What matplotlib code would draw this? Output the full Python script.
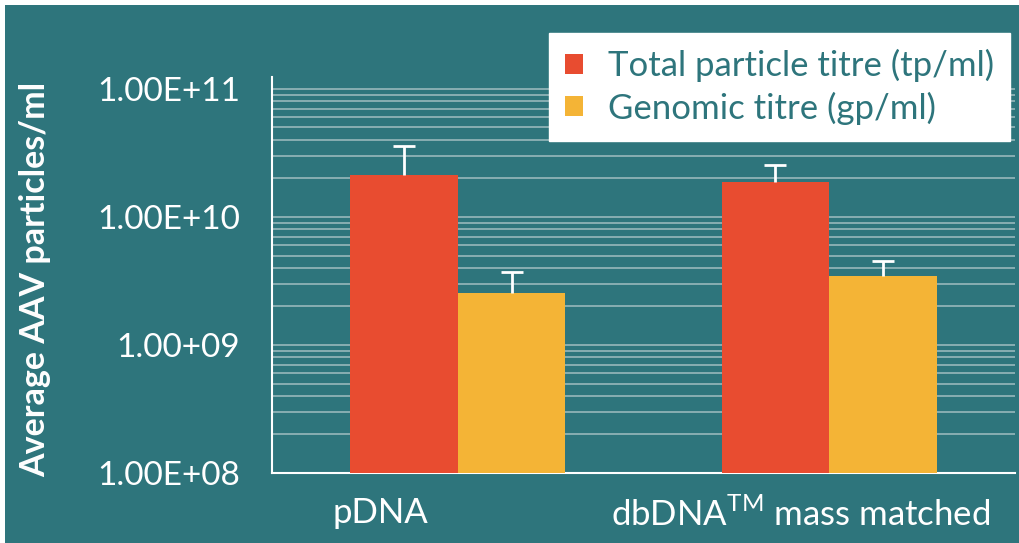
import matplotlib
matplotlib.use("Agg")
import matplotlib.pyplot as plt
from matplotlib.patches import Rectangle
from matplotlib.ticker import FixedLocator, LogLocator, NullFormatter
import numpy as np

# Data
categories = ["pDNA", "dbDNA$^{\\mathregular{TM}}$ mass matched"]
series_names = ["Total particle titre (tp/ml)", "Genomic titre (gp/ml)"]
total_titre = [2.13e10, 1.87e10]
total_err = [1.44e10, 0.69e10]
genomic_titre = [2.55e9, 3.46e9]
genomic_err = [1.19e9, 1.07e9]
ytick_values = [1e8, 1e9, 1e10, 1e11]
ytick_labels = ["1.00E+08", "1.00+09", "1.00E+10", "1.00E+11"]

TEAL = "#2E757C"
RED = "#E84C30"
YELLOW = "#F4B436"
GRID = "#8FB3B6"

plt.rcParams["font.family"] = ["Lato", "DejaVu Sans"]

W, H = 1019, 543
fig = plt.figure(figsize=(W / 100, H / 100), dpi=100, facecolor="white")
fig.patches.append(Rectangle((5 / W, 0), 1, 1 - 5 / H, transform=fig.transFigure,
                             facecolor=TEAL, edgecolor="none", zorder=-10))

ax = fig.add_axes([272 / W, 1 - 473 / H, (1015 - 272) / W, (473 - 77) / H])
ax.set_facecolor(TEAL)
ax.set_yscale("log")
ax.set_ylim(1e8, 1.24e11)
ax.set_xlim(-0.5, 1.5)

x = np.arange(len(categories))
bw = 0.29
err_kw = dict(ecolor="white", elinewidth=2, capsize=8, capthick=2)
bars_total = ax.bar(x - bw / 2, total_titre, bw, color=RED, zorder=3,
                    yerr=[np.zeros(2), total_err], error_kw=err_kw, label=series_names[0])
bars_gen = ax.bar(x + bw / 2, genomic_titre, bw, color=YELLOW, zorder=3,
                  yerr=[np.zeros(2), genomic_err], error_kw=err_kw, label=series_names[1])
# only the upper whisker carries a cap
for bc in (bars_total, bars_gen):
    caplines = bc.errorbar.lines[1]
    caplines[0].set_visible(False)

# Axis styling
for s in ["top", "right"]:
    ax.spines[s].set_visible(False)
for s in ["left", "bottom"]:
    ax.spines[s].set_color("white")
    ax.spines[s].set_linewidth(1.5)

ax.yaxis.set_major_locator(FixedLocator(ytick_values))
ax.set_yticklabels(ytick_labels)
ax.yaxis.set_minor_locator(LogLocator(base=10, subs=np.arange(2, 10)))
ax.yaxis.set_minor_formatter(NullFormatter())
ax.tick_params(axis="y", which="both", length=0, colors="white", labelsize=24, pad=23)
ax.grid(True, axis="y", which="both", color=GRID, linewidth=1.3, zorder=0)

ax.set_xticks([-0.207, 0.923])
ax.set_xticklabels(categories)
ax.tick_params(axis="x", length=0, colors="white", labelsize=25, pad=17)

ax.set_ylabel("Average AAV particles/ml", color="white", fontsize=24.5,
              fontweight="bold")
ax.yaxis.set_label_coords(-0.297, 0.49)

leg = ax.legend(loc="upper left", bbox_to_anchor=((549 - 272) / 743, 1 + (77 - 33) / 396),
                fontsize=25, frameon=True, fancybox=False, framealpha=1,
                edgecolor="white", facecolor="white", handlelength=0.52,
                handleheight=0.52, handletextpad=0.7, borderpad=0.47,
                labelspacing=0.26, borderaxespad=0)
for t in leg.get_texts():
    t.set_color(TEAL)

fig.savefig("out.png", dpi=100, facecolor=fig.get_facecolor())
